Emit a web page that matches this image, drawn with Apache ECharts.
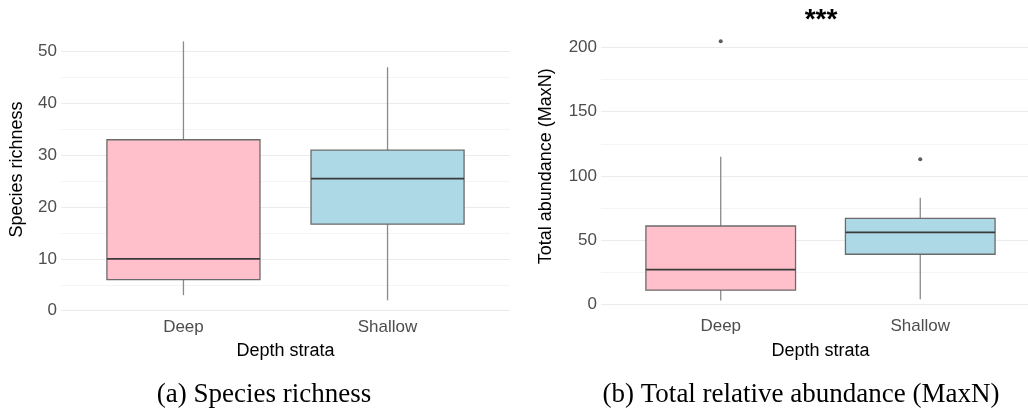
<!DOCTYPE html>
<html>
<head>
<meta charset="utf-8">
<script src="https://cdn.jsdelivr.net/npm/echarts@6/dist/echarts.min.js"></script>
<style>html,body{margin:0;padding:0;background:#fff;}#c{width:1028px;height:412px;}</style>
</head>
<body>
<div id="c"></div>
<script>
// ---- data ----
const categories = ['Deep', 'Shallow'];
const categoryPositions = [1, 2];
// [min, Q1, median, Q3, max]
const richnessStats = [[3, 6, 10, 33, 52], [2, 16.7, 25.5, 31, 47]];
const abundanceStats = [[3, 11, 27, 61, 115], [4, 39, 56, 67, 83]];
// [category position, value]
const richnessOutliers = [];
const abundanceOutliers = [[1, 205], [2, 113]];
const richnessTicks = [0, 10, 20, 30, 40, 50];
const abundanceTicks = [0, 50, 100, 150, 200];
const fills = ['#FFC0CB', '#ADD8E6'];
const panelTitles = ['(a) Species richness', '(b) Total relative abundance (MaxN)'];
const signif = '***';

const chart = echarts.init(document.getElementById('c'), null, {renderer: 'canvas'});

function boxData(stats) {
  return stats.map((s, i) => [categoryPositions[i]].concat(s));
}

function renderBox(params, api) {
  const x = api.value(0);
  const lo = api.coord([x, api.value(1)]);
  const q1 = api.coord([x, api.value(2)]);
  const md = api.coord([x, api.value(3)]);
  const q3 = api.coord([x, api.value(4)]);
  const hi = api.coord([x, api.value(5)]);
  const w = api.size([0.75, 0])[0];
  const cx = lo[0];
  return {
    type: 'group',
    children: [
      {type: 'line', shape: {x1: cx, y1: hi[1], x2: cx, y2: lo[1]},
       style: {stroke: '#8a8a8a', lineWidth: 1.3}},
      {type: 'rect', shape: {x: cx - w / 2, y: q3[1], width: w, height: q1[1] - q3[1]},
       style: {fill: fills[params.dataIndex], stroke: '#6b6b6b', lineWidth: 1.3}},
      {type: 'line', shape: {x1: cx - w / 2, y1: md[1], x2: cx + w / 2, y2: md[1]},
       style: {stroke: '#3a3a3a', lineWidth: 1.6}}
    ]
  };
}

function xAxisCfg(gridIndex, xMax, nameGap, labelMargin, namePadLeft) {
  return {
    type: 'value', gridIndex: gridIndex, min: 0.4, max: xMax,
    axisLine: {show: false}, axisTick: {show: false}, splitLine: {show: false},
    axisLabel: {customValues: categoryPositions, formatter: v => categories[Math.round(v) - 1],
      color: '#4d4d4d', fontSize: 17, fontFamily: 'Liberation Sans', margin: labelMargin},
    name: 'Depth strata', nameLocation: 'middle', nameGap: nameGap,
    nameTextStyle: {color: '#000', fontSize: 18, fontFamily: 'Liberation Sans',
      padding: [0, 0, 0, namePadLeft]}
  };
}

function yAxisCfg(gridIndex, max, interval, ticks, name, nameGap) {
  return {
    type: 'value', gridIndex: gridIndex, min: 0, max: max, interval: interval,
    axisLine: {show: false}, axisTick: {show: false},
    splitLine: {show: true, showMaxLine: false, lineStyle: {color: ['#ebebeb', '#f4f4f4'], width: 1}},
    axisLabel: {formatter: v => (ticks.indexOf(v) >= 0 ? String(v) : ''), showMaxLabel: false,
      color: '#4d4d4d', fontSize: 17, fontFamily: 'Liberation Sans', margin: 4},
    name: name, nameLocation: 'middle', nameGap: nameGap,
    nameTextStyle: {color: '#000', fontSize: 18, fontFamily: 'Liberation Sans'}
  };
}

const option = {
  animation: false,
  backgroundColor: '#fff',
  grid: [
    {left: 61, width: 449, top: 28.4, height: 282.3},
    {left: 601, right: 0, top: 28.3, height: 276}
  ],
  xAxis: [xAxisCfg(0, 2.6, 31, 8, 0), xAxisCfg(1, 2.54, 38, 14, 12)],
  yAxis: [
    yAxisCfg(0, 54.5, 5, richnessTicks, 'Species richness', 35),
    yAxisCfg(1, 215, 25, abundanceTicks, 'Total abundance (MaxN)', 46)
  ],
  series: [
    {type: 'custom', xAxisIndex: 0, yAxisIndex: 0, renderItem: renderBox,
     data: boxData(richnessStats), encode: {x: 0, y: [1, 2, 3, 4, 5]}},
    {type: 'scatter', xAxisIndex: 0, yAxisIndex: 0, data: richnessOutliers,
     symbolSize: 4, itemStyle: {color: '#333'}},
    {type: 'custom', xAxisIndex: 1, yAxisIndex: 1, renderItem: renderBox,
     data: boxData(abundanceStats), encode: {x: 0, y: [1, 2, 3, 4, 5]}},
    {type: 'scatter', xAxisIndex: 1, yAxisIndex: 1, data: abundanceOutliers,
     symbolSize: 4, itemStyle: {color: '#333'}}
  ],
  graphic: [
    {type: 'text', x: 821, y: 20, style: {text: signif, fontSize: 28, fontWeight: 'bold',
      fontFamily: 'Liberation Sans', fill: '#000', align: 'center', verticalAlign: 'middle'}},
    {type: 'text', x: 264, y: 395, style: {text: panelTitles[0], fontSize: 27,
      fontFamily: 'Liberation Serif', fill: '#000', align: 'center', verticalAlign: 'middle'}},
    {type: 'text', x: 801, y: 395, style: {text: panelTitles[1], fontSize: 27,
      fontFamily: 'Liberation Serif', fill: '#000', align: 'center', verticalAlign: 'middle'}}
  ]
};
chart.setOption(option);
</script>
</body>
</html>
